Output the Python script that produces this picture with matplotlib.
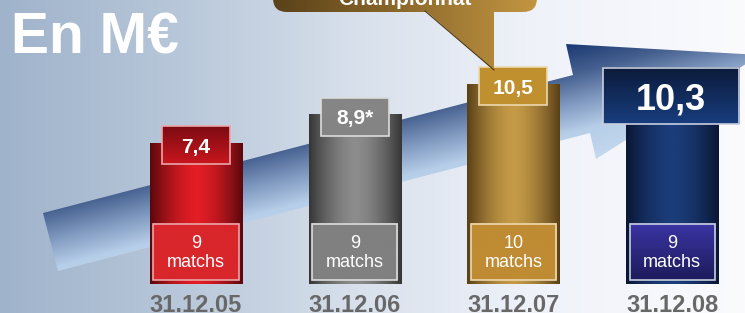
import numpy as np
import matplotlib
matplotlib.use('Agg')
import matplotlib.pyplot as plt
from matplotlib.colors import LinearSegmentedColormap
from matplotlib.patches import Rectangle, Polygon, FancyBboxPatch

plt.rcParams['font.family'] = ['Liberation Sans', 'DejaVu Sans']

# data
dates = ['31.12.05', '31.12.06', '31.12.07', '31.12.08']
values = [7.4, 8.9, 10.5, 10.3]
value_labels = ['7,4', '8,9*', '10,5', '10,3']
matches = [9, 9, 10, 9]

# colours per bar: bar edge, bar centre, value box top/bottom, match box top/bottom
bar_edge = ['#5a080c', '#363636', '#5a4017', '#0a1634']
bar_mid = ['#e21d25', '#8c8c8c', '#c49a47', '#1b3d7a']
vbox_top = ['#7c0b11', '#868686', '#c0902f', '#0b1b3a']
vbox_bot = ['#c9161e', '#848484', '#c0902f', '#183d7e']
mbox_top = ['#d8262b', '#808080', '#bf8b33', '#3a35a3']
mbox_bot = ['#d8262b', '#808080', '#bf8b33', '#1d1b5c']
border = ['#eaa6a8', '#dcdcdc', '#ecd8ae', '#c8cfe0']

W, H = 745, 313
fig = plt.figure(figsize=(W / 100, H / 100), dpi=100)

# ---- background + arrow (pixel coordinates)
bg = fig.add_axes([0, 0, 1, 1])
bg.axis('off')
cm_bg = LinearSegmentedColormap.from_list('bg', [(0, '#9fb3cb'), (0.25, '#b9c8da'), (0.5, '#dae2ed'),
                                                 (0.72, '#eff2f9'), (1, '#fbfbfe')])
bg.imshow(np.linspace(0, 1, 256)[None, :], cmap=cm_bg, extent=(0, W, H, 0), aspect='auto')

arrow = Polygon([(43, 213), (573, 75), (566, 44), (760, 55), (596, 159), (590, 133), (58, 271)],
                closed=True, fc='none', ec='none')
bg.add_patch(arrow)
X, Y = np.meshgrid(np.arange(0, 770), np.arange(0, H))
d = (X - 581) * 0.252 + (Y - 101.5) * 0.968
t = np.clip((d + 59) / 118, 0, 1)
cm_arrow = LinearSegmentedColormap.from_list('arr', [(0, '#1a3872'), (0.26, '#45608f'), (0.5, '#7f98bf'),
                                                    (0.74, '#b6cee8'), (1, '#c4d8ee')])
im = bg.imshow(t, cmap=cm_arrow, vmin=0, vmax=1, extent=(-0.5, 769.5, H - 0.5, -0.5), aspect='auto')
im.set_clip_path(arrow)
bg.set_xlim(0, W)
bg.set_ylim(H, 0)

bg.text(11, 53, 'En M€', color='white', fontsize=41, fontweight='bold', va='baseline', ha='left')

# ---- bars (data coordinates)
ax = fig.add_axes([0, 0, 1, 1])
ax.patch.set_alpha(0)
ax.axis('off')
x = np.arange(len(values))
bw = 0.58
bars = ax.bar(x, values, width=bw, color='none', zorder=2)

u = np.abs(np.linspace(-1, 1, 121)) ** 1.6
for i, b in enumerate(bars):
    cm = LinearSegmentedColormap.from_list('b%d' % i, [bar_mid[i], bar_edge[i]])
    x0 = b.get_x()
    ax.imshow(u[None, :], cmap=cm, vmin=0, vmax=1, aspect='auto', zorder=2,
              extent=(x0, x0 + b.get_width(), 0, b.get_height()))

def box(xc, yc, w, h, top, bot, ec, z=4):
    cm = LinearSegmentedColormap.from_list('bx', [top, bot])
    ax.imshow(np.linspace(0, 1, 64)[:, None], cmap=cm, vmin=0, vmax=1, aspect='auto', zorder=z,
              extent=(xc - w / 2, xc + w / 2, yc - h / 2, yc + h / 2))
    ax.add_patch(Rectangle((xc - w / 2, yc - h / 2), w, h, fc='none', ec=ec, lw=1.2, zorder=z + 0.5))

for i, v in enumerate(values):
    # match count box
    box(i, 1.68, 0.536, 2.95, mbox_top[i], mbox_bot[i], border[i])
    ax.text(i, 1.62, '%d\nmatchs' % matches[i], ha='center', va='center', color='white',
            fontsize=13, zorder=6, linespacing=1.15)
    # value box
    if i == len(values) - 1:
        box(i - 0.006, v - 0.41, 0.857, 2.95, vbox_top[i], vbox_bot[i], border[i])
        ax.text(i - 0.006, v - 0.41, value_labels[i], ha='center', va='center_baseline', color='white',
                fontsize=26, fontweight='bold', zorder=6)
    else:
        box(i, v - 0.1, 0.428, 2.0, vbox_top[i], vbox_bot[i], border[i])
        ax.text(i, v - 0.1, value_labels[i], ha='center', va='center_baseline', color='white',
                fontsize=15, fontweight='bold', zorder=6)
    ax.text(i, -1.47, dates[i], ha='center', va='baseline', color='#686868',
            fontsize=17, fontweight='bold', zorder=6)

ax.set_xlim(-1.235, 3.459)
ax.set_ylim(-29 / 19, 284 / 19)

# ---- callout bubble on top
top = fig.add_axes([0, 0, 1, 1])
top.patch.set_alpha(0)
top.axis('off')
rr = FancyBboxPatch((273, -40), 264, 52, boxstyle='round,pad=0,rounding_size=14', fc='none', ec='none')
ptr = Polygon([(425, 10), (494, 70), (494, 10)], closed=True, fc='none', ec='none')
top.add_patch(rr)
top.add_patch(ptr)
cm_gold = LinearSegmentedColormap.from_list('gold', ['#5a4119', '#c29541'])
for p in (rr, ptr):
    g = top.imshow(np.linspace(0, 1, 128)[None, :], cmap=cm_gold, extent=(273, 537, 80, -40), aspect='auto')
    g.set_clip_path(p)
top.plot([425, 494], [11, 70], color='#4a3510', lw=0.8)
top.text(405, 5, 'Championnat', ha='center', va='baseline', color='white', fontsize=15, fontweight='bold')
top.set_xlim(0, W)
top.set_ylim(H, 0)

fig.savefig('out.png', dpi=100)
